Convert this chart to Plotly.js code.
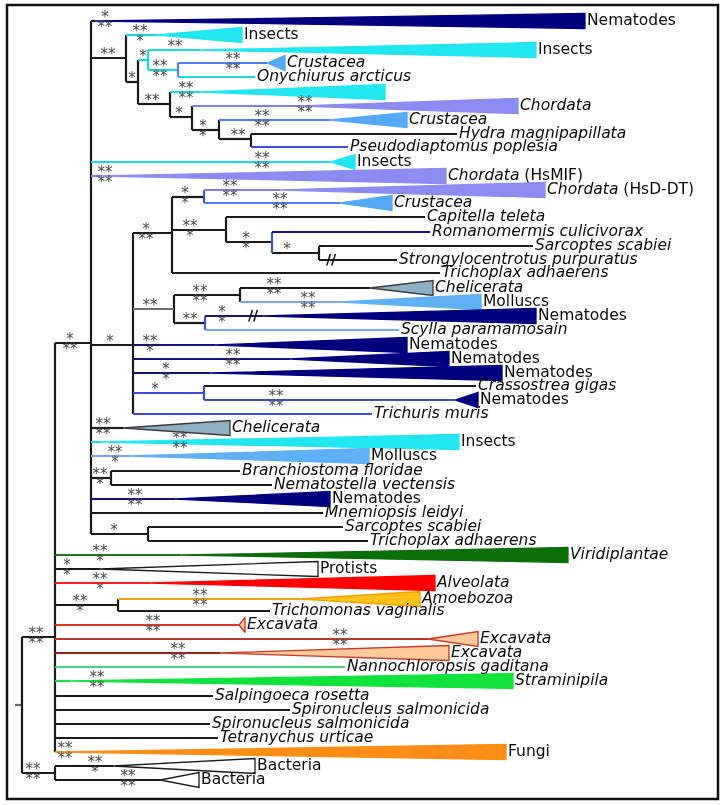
<!DOCTYPE html>
<html><head><meta charset="utf-8">
<script src="https://cdn.plot.ly/plotly-3.0.1.min.js"></script>
<style>html,body{margin:0;padding:0;background:#fff}#chart{width:726px;height:805px}
#chart svg{will-change:transform}
#chart text{-webkit-font-smoothing:antialiased}
</style>
</head><body><div id="chart"></div>
<script>
// ---------- internal nodes ----------
const nodeId     = ['R','E','B','M','N1','N2','N3','N4','N5','N6','N7','N8','N9','N10','N11','N12','N13','N14','N15','N16','N17','N18','N19','N20','N21'];
const nodeParent = [null,'R','R','E','M','N1','N2','N3','N2','N5','N6','N7','M','N9','N10','N10','N12','N13','N9','N15','N15','N9','M','M','E'];
const nodeDepth  = [22,55,55,91,126,138,148,178,170,192,219,251,133,172,204,226,272,319,174,240,205,204,111,148,118];
const nodeRow    = [705,637,773,343,58,82,60,70,104,117,130,139,345,233,197,230,242,253,309,295,323,393,478,534,605];
const nodeClade  = ['blk','blk','blk','blk','blk','blk','ins','ins','blk','blk','blk','blk','blk','blk','blk','blk','blk','blk','gry','blk','blk','blu','blk','blk','blk'];
const nodeSpine  = ['blk','blk','blk','blk','blk','blk','ins','cru','blk','blk','blk','blk','blk','blk','blu','blk','blu','blk','blk','blk','blu','blu','blk','blk','blk'];
const nodeSupTop = ['','**','**','*','**','*','*','**','**','*','*','**','*','*','*','**','*','*','**','**','**','*','**','*','**'];
const nodeSupBot = ['','**','**','**','','','','**','','','*','','','**','*','*','*','','','**','','','*','','*'];
const nodeSupX   = [0,36,33,70,108,132,143,160,152,179,203,238,110,146,185,190,246,287,150,200,190,155,100,114,80];

// ---------- leaves / collapsed clades ----------
const leafLabel = ['Nematodes','Insects','Insects','<i>Crustacea</i>','<i>Onychiurus arcticus</i>','','<i>Chordata</i>','<i>Crustacea</i>','<i>Hydra magnipapillata</i>','<i>Pseudodiaptomus poplesia</i>',
  'Insects','<i>Chordata</i> (HsMIF)','<i>Chordata</i> (HsD-DT)','<i>Crustacea</i>','<i>Capitella teleta</i>','<i>Romanomermis culicivorax</i>','<i>Sarcoptes scabiei</i>','<i>Strongylocentrotus purpuratus</i>','<i>Trichoplax adhaerens</i>','<i>Chelicerata</i>',
  'Molluscs','Nematodes','<i>Scylla paramamosain</i>','Nematodes','Nematodes','Nematodes','<i>Crassostrea gigas</i>','Nematodes','<i>Trichuris muris</i>','<i>Chelicerata</i>',
  'Insects','Molluscs','<i>Branchiostoma floridae</i>','<i>Nematostella vectensis</i>','Nematodes','<i>Mnemiopsis leidyi</i>','<i>Sarcoptes scabiei</i>','<i>Trichoplax adhaerens</i>','<i>Viridiplantae</i>','Protists',
  '<i>Alveolata</i>','<i>Amoebozoa</i>','<i>Trichomonas vaginalis</i>','<i>Excavata</i>','<i>Excavata</i>','<i>Excavata</i>','<i>Nannochloropsis gaditana</i>','<i>Straminipila</i>','<i>Salpingoeca rosetta</i>','<i>Spironucleus salmonicida</i>',
  '<i>Spironucleus salmonicida</i>','<i>Tetranychus urticae</i>','Fungi','Bacteria','Bacteria'];
const leafParent = ['M','N1','N3','N4','N4','N5','N6','N7','N8','N8','M','M','N11','N11','N12','N13','N14','N14','N10','N16','N16','N17','N17','N9','N9','N9','N18','N18','N9','M','M','M','N19','N19','M','M','N20','N20','E','E','E','N21','N21','E','E','E','E','E','E','E','E','E','E','B','B'];
const leafRow  = [21,35,50,63,77,92,106,120,134,147,162,176,190,203,217,232,246,260,273,288,302,316,330,345,359,373,386,400,414,428,442,456,471,485,499,513,527,541,555,569,583,599,611,625,639,653,667,681,696,710,724,738,752,766,780];
const leafTip  = [585,242,536,285,255,385,518,407,457,348,355,446,545,392,425,430,533,397,440,433,481,536,399,407,449,502,476,478,372,230,459,369,240,272,330,323,343,368,568,318,435,420,270,245,478,449,345,513,213,290,210,218,506,255,199];
const leafApex = [95,157,200,267,null,200,300,330,null,null,330,100,280,340,null,null,null,null,null,370,340,263,null,215,290,210,null,455,null,123,100,130,null,null,175,null,null,null,180,100,150,300,null,239,428,220,null,70,null,null,null,null,60,113,160];
const leafClade = ['nem','ins','ins','cru','','ins','cho','cru','','','ins','cho','cho','cru','','','','','','che','mol','nem','','nem','nem','nem','','nem','','che','ins','mol','','','nem','','','','vir','pro','alv','amo','','exs','exc','exc','','str','','','','','fun','bac','bac'];
const leafStem  = ['nem','ins','ins','cru','ins','ins','cho','cru','blk','blu','ins','cho','cho','cru','blk','nem','blk','blk','blk','blk','mol','nem','mol','nem','nem','nem','blk','blu','blu','blk','ins','mol','blk','blk','nem','blk','blk','blk','vir','blk','alv','amo','blk','exs','exc','exd','nan','str','blk','blk','blk','blk','fun','blk','blk'];
const leafSupTop = ['*','**','**','**','','**','**','**','','','**','**','**','**','','','','','','**','**','*','','**','**','*','','**','','**','**','**','','','**','','','','**','*','**','**','','**','**','**','','**','','','','','**','**','**'];
const leafSupBot = ['**','*','','**','','**','**','**','','','**','**','**','**','','','','','','**','**','*','','*','**','*','','**','','**','**','*','','','**','','','','*','*','*','**','','**','**','**','','**','','','','','**','*','**'];
const leafSupX   = [105,140,175,233,0,186,305,262,0,0,262,105,230,280,0,0,0,0,0,274,308,222,0,150,233,166,0,276,0,103,180,115,0,0,135,0,0,0,100,67,100,200,0,153,340,178,0,97,0,0,0,0,65,95,128];
const breakLeaf = [17,21];
const breakX    = [331,253];

// ---------- styling ----------
const ROOT_STUB = 15, HALF = 7.5, FONT = 'DejaVu Sans';
const lineCol = {blk:'#1b1b1b',nem:'#14147c',ins:'#1ad8e6',cru:'#4c7ff0',cho:'#7f7fec',che:'#444',mol:'#78a6f2',blu:'#3c50d6',gry:'#6e6e6e',
  vir:'#1e7a1e',alv:'#ff1e1e',amo:'#f0a41e',exs:'#e2381e',exc:'#b23c28',exd:'#a51e1e',nan:'#48d27c',str:'#1ed84a',fun:'#ff8c1e'};
const fillCol = {nem:'#00007f',ins:'#22e6f0',cru:'#55a8f5',cho:'#8b8bf2',che:'#8fb0c3',mol:'#5fb0f5',vir:'#0b6e0b',pro:'#ffffff',alv:'#ff0000',
  amo:'#ffc21a',exs:'#ffd0a8',exc:'#ffc99a',str:'#11e33c',fun:'#ff8c14',bac:'#ffffff'};
const edgeCol = {che:'#3a3a3a',pro:'#1b1b1b',bac:'#1b1b1b',exs:'#d2321e',exc:'#c83a2a',amo:'#f0a000'};

const idx = {}; nodeId.forEach((id,i)=>idx[id]=i);
const segs = {};
function seg(col,x0,y0,x1,y1){ if(!segs[col]) segs[col]={x:[],y:[]}; segs[col].x.push(x0,x1,null); segs[col].y.push(y0,y1,null); }

// horizontal branches
nodeId.forEach((id,i)=>{
  const p = nodeParent[i];
  const x0 = p===null ? ROOT_STUB : nodeDepth[idx[p]];
  seg(p===null?'#666':lineCol[nodeClade[i]],x0,nodeRow[i],nodeDepth[i],nodeRow[i]);
});
leafLabel.forEach((l,i)=>{
  const pi = idx[leafParent[i]];
  const end = leafApex[i]===null ? leafTip[i] : leafApex[i];
  seg(lineCol[leafStem[i]],nodeDepth[pi],leafRow[i],end,leafRow[i]);
});
// vertical spines spanning all children
nodeId.forEach((id,i)=>{
  const ys = [];
  nodeParent.forEach((p,j)=>{ if(p===id) ys.push(nodeRow[j]); });
  leafParent.forEach((p,j)=>{ if(p===id) ys.push(leafRow[j]); });
  seg(lineCol[nodeSpine[i]],nodeDepth[i],Math.min(...ys),nodeDepth[i],Math.max(...ys));
});

const traces = [];
Object.keys(segs).forEach(c=>traces.push({type:'scatter',mode:'lines',x:segs[c].x,y:segs[c].y,line:{color:c,width:2.2},hoverinfo:'skip'}));

leafLabel.forEach((l,i)=>{
  if(leafApex[i]===null) return;
  const k = leafClade[i];
  traces.push({type:'scatter',mode:'lines',fill:'toself',fillcolor:fillCol[k],
    x:[leafApex[i],leafTip[i],leafTip[i],leafApex[i]],
    y:[leafRow[i],leafRow[i]-HALF,leafRow[i]+HALF,leafRow[i]],
    line:{color:edgeCol[k]||fillCol[k],width:1.3},hoverinfo:'skip'});
});

// break marks
traces.push({type:'scatter',mode:'text',x:breakX,y:breakLeaf.map(i=>leafRow[i]),text:breakLeaf.map(()=>'//'),
  textposition:'middle center',textfont:{family:FONT,size:14,color:'#000',weight:'bold'},hoverinfo:'skip'});

// taxon labels
traces.push({type:'scatter',mode:'text',x:leafTip.map(v=>v+2),y:leafRow,text:leafLabel,
  textposition:'middle right',textfont:{family:FONT,size:15.5,color:'#0a0a0a'},marker:{size:1},hoverinfo:'skip'});

// support values (text)
const sx=[],sy=[],st=[];
function sup(t,x,y,top){ if(!t) return; sx.push(x); sy.push(y+(top?-6:3.5)+3.5); st.push(t); }
nodeId.forEach((id,i)=>{ sup(nodeSupTop[i],nodeSupX[i],nodeRow[i],true); sup(nodeSupBot[i],nodeSupX[i],nodeRow[i],false); });
leafLabel.forEach((l,i)=>{ sup(leafSupTop[i],leafSupX[i],leafRow[i],true); sup(leafSupBot[i],leafSupX[i],leafRow[i],false); });
traces.push({type:'scatter',mode:'text',x:sx,y:sy,text:st,textposition:'middle center',
  textfont:{family:FONT,size:15,color:'#4a4a4a'},marker:{size:1},hoverinfo:'skip'});

const layout = {
  width:726,height:805,margin:{l:0,r:0,t:0,b:0},paper_bgcolor:'#fff',plot_bgcolor:'#fff',showlegend:false,hovermode:false,
  xaxis:{range:[0,726],visible:false,fixedrange:true},
  yaxis:{range:[805,0],visible:false,fixedrange:true},
  shapes:[{type:'rect',xref:'x',yref:'y',x0:7,x1:718,y0:5,y1:799,line:{color:'#111',width:2.5}}]
};
Plotly.newPlot('chart',traces,layout,{staticPlot:true,displayModeBar:false});
</script></body></html>
